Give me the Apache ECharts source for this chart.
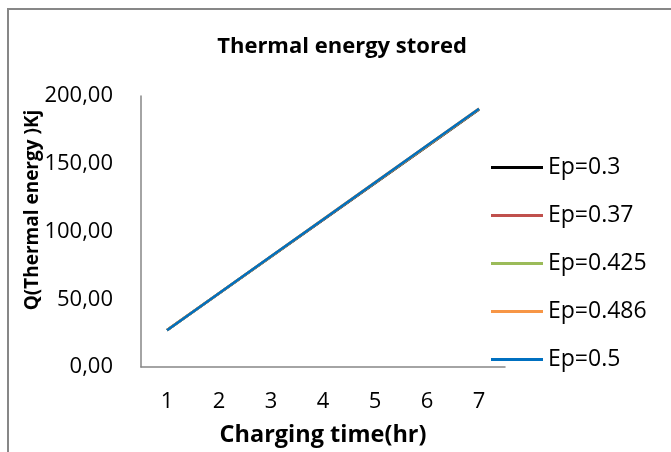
<!DOCTYPE html>
<html>
<head>
<meta charset="utf-8">
<script src="https://cdn.jsdelivr.net/npm/echarts@6/dist/echarts.min.js"></script>
<style>
html,body{margin:0;padding:0;background:#fff;}
#chart{width:671px;height:452px;}
</style>
</head>
<body>
<div id="chart"></div>
<script>
const chartTitle = 'Thermal energy stored';
const xAxisName = 'Charging time(hr)';
const yAxisName = 'Q(Thermal energy )Kj';
const times = ['1', '2', '3', '4', '5', '6', '7'];
const seriesNames = ['Ep=0.3', 'Ep=0.37', 'Ep=0.425', 'Ep=0.486', 'Ep=0.5'];
const ep030 = [27.1, 54.3, 81.4, 108.5, 135.7, 162.8, 190.0];
const ep037 = [27.2, 54.4, 81.5, 108.7, 135.9, 163.0, 190.2];
const ep0425 = [27.2, 54.4, 81.6, 108.8, 136.0, 163.2, 190.4];
const ep0486 = [27.3, 54.5, 81.8, 109.0, 136.3, 163.5, 190.8];
const ep050 = [27.2, 54.5, 81.7, 108.9, 136.1, 163.4, 190.6];
const seriesValues = [ep030, ep037, ep0425, ep0486, ep050];
const colors = ['#000000', '#C0504D', '#9BBB59', '#F79646', '#0070C0'];

const FONT = '"Open Sans"';
const chart = echarts.init(document.getElementById('chart'), null, {renderer: 'canvas'});
chart.setOption({
  animation: false,
  backgroundColor: '#ffffff',
  color: colors,
  textStyle: {fontFamily: FONT},
  grid: {left: 141, top: 96, width: 364, height: 271, containLabel: false},
  graphic: [
    {type: 'rect', shape: {x: 8, y: 9, width: 700, height: 500}, style: {fill: 'none', stroke: '#878787', lineWidth: 2}, silent: true},
    {type: 'text', x: 342, y: 47, style: {text: chartTitle, font: 'bold 22px ' + FONT, fill: '#000', textAlign: 'center', textVerticalAlign: 'middle'}},
    {type: 'text', x: 33, y: 210, rotation: Math.PI / 2, style: {text: yAxisName, font: 'bold 19px ' + FONT, fill: '#000', textAlign: 'center', textVerticalAlign: 'middle'}}
  ],
  legend: {
    orient: 'vertical',
    left: 491,
    top: 156,
    padding: 0,
    icon: 'rect',
    itemWidth: 52,
    itemHeight: 3,
    itemGap: 25,
    textStyle: {fontFamily: FONT, fontSize: 23, lineHeight: 23, color: '#000'},
    data: seriesNames
  },
  xAxis: {
    type: 'category',
    data: times,
    boundaryGap: true,
    name: xAxisName,
    nameLocation: 'middle',
    nameGap: 56,
    nameTextStyle: {fontFamily: FONT, fontSize: 23.5, fontWeight: 'bold', color: '#000'},
    axisLine: {lineStyle: {color: '#868686', width: 1.5}},
    axisTick: {show: false},
    axisLabel: {fontFamily: FONT, fontSize: 22, color: '#000', margin: 24}
  },
  yAxis: {
    type: 'value',
    min: 0,
    max: 200,
    interval: 50,
    axisLine: {show: true, lineStyle: {color: '#868686', width: 1.5}},
    axisTick: {show: false},
    splitLine: {show: false},
    axisLabel: {
      fontFamily: FONT, fontSize: 22, color: '#000', margin: 28,
      formatter: v => v.toFixed(2).replace('.', ',')
    }
  },
  series: seriesNames.map((n, i) => ({
    name: n,
    type: 'line',
    data: seriesValues[i],
    symbol: 'none',
    lineStyle: {width: 2.5, color: colors[i]},
    itemStyle: {color: colors[i]}
  }))
});
</script>
</body>
</html>
